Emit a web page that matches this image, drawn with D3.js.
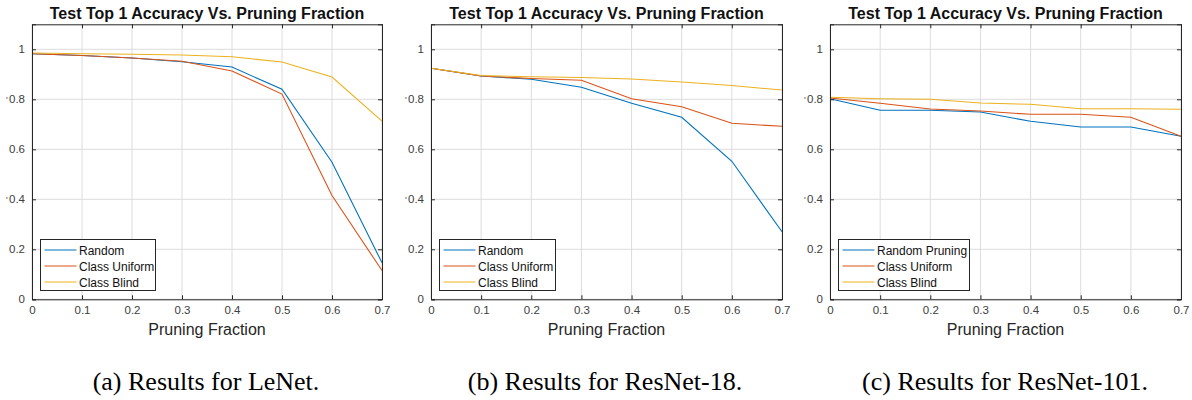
<!DOCTYPE html>
<html><head><meta charset="utf-8">
<script src="https://cdn.jsdelivr.net/npm/d3@7"></script>
<style>body{margin:0;background:#fff}svg{display:block}</style>
</head><body>
<svg id="c" width="1192" height="400"></svg>
<script>
const fractions = [0, 0.1, 0.2, 0.3, 0.4, 0.5, 0.6, 0.7];
const xTicks = [0, 0.1, 0.2, 0.3, 0.4, 0.5, 0.6, 0.7];
const yTicks = [0, 0.2, 0.4, 0.6, 0.8, 1];
const chartTitle = "Test Top 1 Accuracy Vs. Pruning Fraction";
const xLabel = "Pruning Fraction";
const colors = ["#0072BD", "#D95319", "#EDB120"];

const lenetRandom = [0.982, 0.975, 0.965, 0.950, 0.929, 0.840, 0.548, 0.146];
const lenetUniform = [0.982, 0.975, 0.965, 0.952, 0.913, 0.821, 0.415, 0.115];
const lenetBlind = [0.985, 0.982, 0.980, 0.977, 0.970, 0.949, 0.889, 0.713];

const r18Random = [0.924, 0.893, 0.880, 0.848, 0.784, 0.728, 0.552, 0.270];
const r18Uniform = [0.924, 0.893, 0.883, 0.876, 0.802, 0.770, 0.704, 0.692];
const r18Blind = [0.924, 0.895, 0.890, 0.887, 0.881, 0.869, 0.855, 0.837];

const r101Random = [0.802, 0.756, 0.756, 0.749, 0.712, 0.689, 0.689, 0.652];
const r101Uniform = [0.805, 0.784, 0.761, 0.753, 0.740, 0.740, 0.728, 0.652];
const r101Blind = [0.808, 0.802, 0.800, 0.785, 0.780, 0.762, 0.762, 0.760];

const panels = [
  {left: 32, right: 382, legend: ["Random", "Class Uniform", "Class Blind"], legendW: 115,
   series: [lenetRandom, lenetUniform, lenetBlind], caption: "(a) Results for LeNet.", cx: 206},
  {left: 431, right: 782, legend: ["Random", "Class Uniform", "Class Blind"], legendW: 116,
   series: [r18Random, r18Uniform, r18Blind], caption: "(b) Results for ResNet-18.", cx: 605},
  {left: 830, right: 1181, legend: ["Random Pruning", "Class Uniform", "Class Blind"], legendW: 131,
   series: [r101Random, r101Uniform, r101Blind], caption: "(c) Results for ResNet-101.", cx: 1005}
];

const svg = d3.select("#c");
const yTop = 24.3, yBot = 299.3;
const axisCol = "#262626";

panels.forEach(p => {
  const x = d3.scaleLinear().domain([0, 0.7]).range([p.left, p.right]);
  const y = d3.scaleLinear().domain([0, 1.1]).range([yBot, yTop]);
  const g = svg.append("g");
  // grid
  g.selectAll(".gx").data(xTicks).join("line")
    .attr("x1", d => x(d)).attr("x2", d => x(d)).attr("y1", yTop).attr("y2", yBot)
    .attr("stroke", "#dcdcdc").attr("stroke-width", 1);
  g.selectAll(".gy").data(yTicks).join("line")
    .attr("x1", p.left).attr("x2", p.right).attr("y1", d => y(d)).attr("y2", d => y(d))
    .attr("stroke", "#dcdcdc").attr("stroke-width", 1);
  // lines
  const line = d3.line().x((d, i) => x(fractions[i])).y(d => y(d));
  p.series.forEach((s, k) => {
    g.append("path").datum(s).attr("d", line).attr("fill", "none")
      .attr("stroke", colors[k]).attr("stroke-width", 1.1);
  });
  // axes
  const ax = d3.axisBottom(x).tickValues(xTicks).tickSize(-4).tickPadding(7).tickFormat(d3.format("~g"));
  const ay = d3.axisLeft(y).tickValues(yTicks).tickSize(-4).tickPadding(7).tickFormat(d3.format("~g"));
  const axT = d3.axisTop(x).tickValues(xTicks).tickSize(-4).tickFormat("");
  const ayR = d3.axisRight(y).tickValues(yTicks).tickSize(-4).tickFormat("");
  [[ax, `translate(0,${yBot})`], [ay, `translate(${p.left},0)`], [axT, `translate(0,${yTop})`], [ayR, `translate(${p.right},0)`]]
    .forEach(([a, t]) => {
      const ag = g.append("g").attr("transform", t).call(a);
      ag.select(".domain").attr("stroke", axisCol).attr("stroke-width", 1);
      ag.selectAll(".tick line").attr("stroke", axisCol);
      ag.selectAll("text").attr("fill", "#404040").style("font-family", "Liberation Sans, Arial, sans-serif").style("font-size", "11.5px");
    });
  // title
  g.append("text").attr("x", (p.left + p.right) / 2).attr("y", 18.5).attr("text-anchor", "middle")
    .style("font-family", "Liberation Sans, Arial, sans-serif").style("font-weight", "bold").style("font-size", "16px")
    .attr("fill", "#111").text(chartTitle);
  // x label
  g.append("text").attr("x", (p.left + p.right) / 2).attr("y", 335).attr("text-anchor", "middle")
    .style("font-family", "Liberation Sans, Arial, sans-serif").style("font-size", "16px")
    .attr("fill", "#262626").text(xLabel);
  // stray ylabel marks
  [99, 199].forEach(yy => g.append("text").attr("x", p.left - 26).attr("y", yy + 4)
    .style("font-family", "Liberation Sans, Arial, sans-serif").style("font-size", "9px").attr("fill", "#444").text("'"));
  // legend
  const lx = p.left + 8.5, ly = 239.5;
  const lg = g.append("g");
  lg.append("rect").attr("x", lx).attr("y", ly).attr("width", p.legendW).attr("height", 51)
    .attr("fill", "#fff").attr("stroke", axisCol).attr("stroke-width", 1);
  p.legend.forEach((name, k) => {
    const yy = ly + 10.5 + k * 16;
    lg.append("line").attr("x1", lx + 4).attr("x2", lx + 36).attr("y1", yy).attr("y2", yy)
      .attr("stroke", colors[k]).attr("stroke-width", 1.1);
    lg.append("text").attr("x", lx + 38.5).attr("y", yy + 4.5)
      .style("font-family", "Liberation Sans, Arial, sans-serif").style("font-size", "12px")
      .attr("fill", "#111").text(name);
  });
  // caption
  svg.append("text").attr("x", p.cx).attr("y", 390).attr("text-anchor", "middle")
    .style("font-family", "Liberation Serif, Times New Roman, serif").style("font-size", "26px")
    .attr("fill", "#000").text(p.caption);
});
</script>
</body></html>
